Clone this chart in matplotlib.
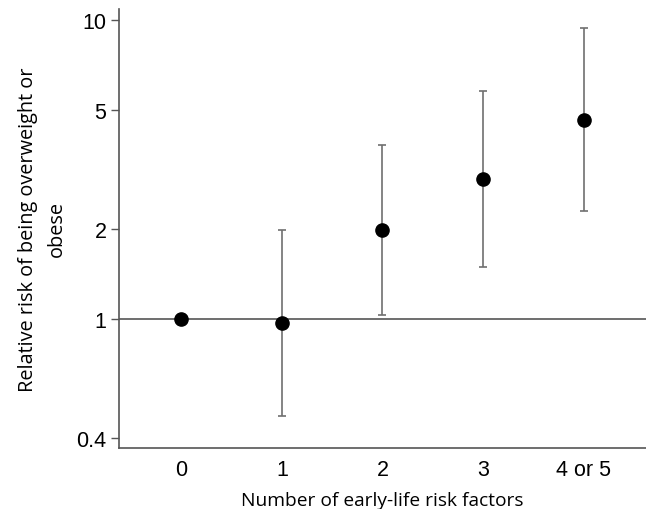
import numpy as np
import matplotlib
matplotlib.use("Agg")
import matplotlib.pyplot as plt
from matplotlib.ticker import FixedLocator, NullLocator

# data
categories = ["0", "1", "2", "3", "4 or 5"]
relative_risk = [1.0, 0.967, 1.98, 2.94, 4.64]
ci_lower = [1.0, 0.475, 1.03, 1.49, 2.30]
ci_upper = [1.0, 1.98, 3.82, 5.80, 9.38]
y_ticks = [0.4, 1, 2, 5, 10]
y_tick_labels = ["0.4", "1", "2", "5", "10"]

x = np.arange(len(categories))
rr = np.array(relative_risk)
yerr = np.vstack([rr - np.array(ci_lower), np.array(ci_upper) - rr])

fig = plt.figure(figsize=(6.46, 5.10), dpi=100)
ax = fig.add_axes([0.1842, 0.1196, 0.8158, 0.8608])

# reference line at RR = 1
ax.axhline(1.0, color="#555555", linewidth=1.2, zorder=1)

ax.errorbar(x, rr, yerr=yerr, fmt="none", ecolor="#707070", elinewidth=1.2,
            capsize=3, capthick=1.2, zorder=2)
ax.plot(x, rr, "o", color="black", markersize=9.5, zorder=3)

ax.set_yscale("log")
ax.set_ylim(0.37, 10.9)
ax.set_xlim(-0.62, 4.62)

ax.yaxis.set_major_locator(FixedLocator(y_ticks))
ax.yaxis.set_minor_locator(NullLocator())
ax.set_yticklabels(y_tick_labels)
ax.set_xticks(x)
ax.set_xticklabels(categories)

for lab in ax.get_xticklabels() + ax.get_yticklabels():
    lab.set_fontfamily(["Liberation Sans", "DejaVu Sans"])
    lab.set_fontsize(15.5)

ax.tick_params(axis="y", length=6, width=1, color="#555555", pad=3)
ax.tick_params(axis="x", length=0, pad=8)

for side in ["top", "right"]:
    ax.spines[side].set_visible(False)
for side in ["left", "bottom"]:
    ax.spines[side].set_color("#555555")
    ax.spines[side].set_linewidth(1.2)

label_font = ["Open Sans", "DejaVu Sans"]
ax.set_xlabel("Number of early-life risk factors", family=label_font,
              fontsize=13.8, labelpad=8)
ax.set_ylabel("Relative risk of being overweight or\nobese", family=label_font,
              fontsize=14.3, labelpad=7, linespacing=1.55)

fig.savefig("out.png", dpi=100)
